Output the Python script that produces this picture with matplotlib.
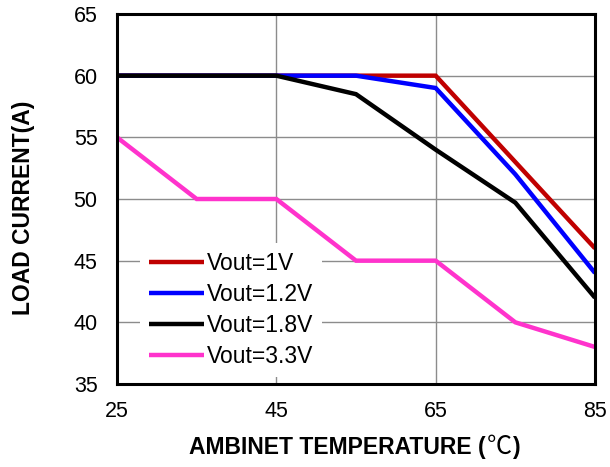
import matplotlib
matplotlib.use("Agg")
import matplotlib.pyplot as plt
from matplotlib.offsetbox import TextArea, HPacker, AnchoredOffsetbox

temperature = [25, 35, 45, 55, 65, 75, 85]
vout_1v = [60, 60, 60, 60, 60, 53, 46]
vout_1p2v = [60, 60, 60, 60, 59, 52, 44]
vout_1p8v = [60, 60, 60, 58.5, 54, 49.7, 42]
vout_3p3v = [55, 50, 50, 45, 45, 40, 38]

series_labels = ["Vout=1V", "Vout=1.2V", "Vout=1.8V", "Vout=3.3V"]
series_colors = ["#C00000", "#0000FF", "#000000", "#FF33CC"]

x_ticks = [25, 45, 65, 85]
y_ticks = [35, 40, 45, 50, 55, 60, 65]

plt.rcParams["font.family"] = ["Liberation Sans", "DejaVu Sans"]

fig = plt.figure(figsize=(6.1, 4.67), dpi=100)
ax = fig.add_axes([117 / 610, 1 - 384 / 467, (595 - 117) / 610, (384 - 14) / 467])

for values, label, color in zip([vout_1v, vout_1p2v, vout_1p8v, vout_3p3v],
                                series_labels, series_colors):
    ax.plot(temperature, values, color=color, lw=3.2, label=label,
            solid_capstyle="butt", solid_joinstyle="miter", zorder=3)

ax.set_xlim(25, 85)
ax.set_ylim(35, 65)
ax.set_xticks(x_ticks)
ax.set_yticks(y_ticks)
ax.grid(True, color="#8C8C8C", lw=1.0, zorder=1)
ax.tick_params(length=0, labelsize=15.5)
ax.tick_params(axis="y", pad=14)
ax.tick_params(axis="x", pad=12)
for spine in ax.spines.values():
    spine.set_linewidth(2.2)
    spine.set_zorder(4)

ax.set_ylabel("LOAD CURRENT(A)", fontsize=16.5, fontweight="bold")
ax.yaxis.set_label_coords(-0.172, 0.476)

# x-axis title: bold Latin text with a full-width regular degree-Celsius sign
bold = dict(fontsize=16.5, fontweight="bold", family="Liberation Sans")
title_parts = HPacker(
    children=[
        TextArea("AMBINET TEMPERATURE (", textprops=bold),
        TextArea("℃", textprops=dict(fontsize=18, family="Noto Sans CJK SC")),
        TextArea(")", textprops=bold),
    ],
    align="baseline", pad=0, sep=1,
)
fig.add_artist(AnchoredOffsetbox(
    loc="center", child=title_parts, pad=0, borderpad=0, frameon=False,
    bbox_to_anchor=(355 / 610, 1 - 447 / 467), bbox_transform=fig.transFigure,
))

leg = ax.legend(loc="lower left", bbox_to_anchor=(0.048, 0.019), frameon=True,
                fontsize=16.5, handlelength=2.4, handletextpad=0.12,
                labelspacing=0.34, borderpad=0.4, borderaxespad=0.0,
                fancybox=False)
leg.get_frame().set_edgecolor("none")
leg.get_frame().set_facecolor("white")
leg.get_frame().set_alpha(1.0)
leg.set_zorder(2)

fig.savefig("out.png", dpi=100)
